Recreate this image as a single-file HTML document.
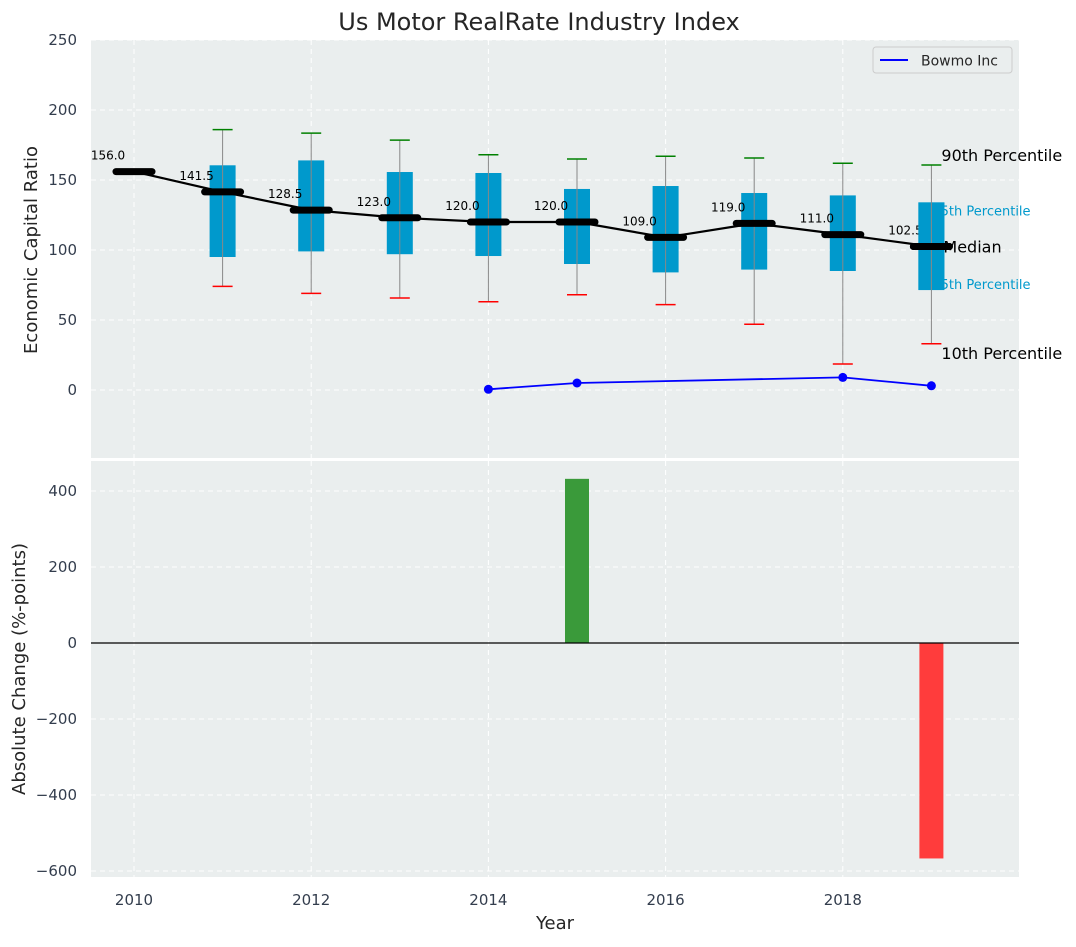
<!DOCTYPE html>
<html><head><meta charset="utf-8"><style>
body{margin:0;background:#fff;}
text{font-family:"DejaVu Sans","Liberation Sans",sans-serif;}
</style></head><body>
<svg id="chart" width="1076" height="942" xmlns="http://www.w3.org/2000/svg">
<text x="539" y="30" font-size="24" text-anchor="middle" fill="#262626">Us Motor RealRate Industry Index</text>
<rect x="91" y="40" width="928" height="418" fill="#eaeeee"/>
<rect x="91" y="461" width="928" height="416" fill="#eaeeee"/>
<g id="topg"></g><g id="botg"></g>
<text x="37" y="250" font-size="18" fill="#262626" text-anchor="middle" transform="rotate(-90 37 250)">Economic Capital Ratio</text>
<text x="25" y="669" font-size="18" fill="#262626" text-anchor="middle" transform="rotate(-90 25 669)">Absolute Change (%-points)</text>
<text x="555" y="929" font-size="18" fill="#262626" text-anchor="middle">Year</text>
<g>
<rect x="873" y="47" width="139" height="26" rx="3" fill="#eaeeee" stroke="#cccccc"/>
<line x1="880" y1="60" x2="908" y2="60" stroke="#0000ff" stroke-width="2"/>
<text x="921" y="65.5" font-size="14" fill="#262626">Bowmo Inc</text>
</g>
</svg>
<script>
const years=[2010,2011,2012,2013,2014,2015,2016,2017,2018,2019];
const medians=[156,141.5,128.5,123,120,120,109,119,111,102.5];
const boxYears=[2011,2012,2013,2014,2015,2016,2017,2018,2019];
const q1=[95,99,97,95.7,90,84,86,85,71.4];
const q3=[160.5,164,155.7,155,143.6,145.7,140.7,139,134];
const p90=[186,183.5,178.5,168,165,167,165.7,162,160.7];
const p10=[74,69,65.7,63,68,61,47,18.6,33];
const bowYears=[2014,2015,2018,2019];
const bowVals=[0.5,5,9,3];
const chgYears=[2015,2019];
const chgVals=[432,-567];
const yTicksTop=[0,50,100,150,200,250];
const yTicksBot=[-600,-400,-200,0,200,400];
const xTicks=[2010,2012,2014,2016,2018];

const NS="http://www.w3.org/2000/svg";
const X=v=>134+(v-2010)*88.6;
const YT=v=>390-v*1.4;
const YB=v=>643-v*0.38;
function mk(p,tag,at,txt){const e=document.createElementNS(NS,tag);for(const k in at)e.setAttribute(k,at[k]);if(txt!==undefined)e.textContent=txt;p.appendChild(e);return e;}
const topG=document.getElementById('topg'),botG=document.getElementById('botg');
yTicksTop.forEach(t=>{
 const g=mk(topG,'line',{x1:91,x2:1019,y1:YT(t),y2:YT(t),stroke:'#fff','stroke-dasharray':'5,4'});
 
 
 const l=mk(topG,'text',{x:77,y:YT(t)+5,'font-size':15,'text-anchor':'end',fill:'#333d4d'},t);
 
 
});
yTicksBot.forEach(t=>{
 const g=mk(botG,'line',{x1:91,x2:1019,y1:YB(t),y2:YB(t),stroke:'#fff','stroke-dasharray':'5,4'});
 
 
 const l=mk(botG,'text',{x:77,y:YB(t)+5,'font-size':15,'text-anchor':'end',fill:'#333d4d'},t<0?'\u2212'+(-t):t);
 
 
});
xTicks.forEach(t=>{
 [[topG,40,458],[botG,461,877]].forEach(([p,a,b])=>{
  const g=mk(p,'line',{x1:X(t),x2:X(t),y1:a,y2:b,stroke:'#fff','stroke-dasharray':'5,4'});
  
  
 });
 const l=mk(botG,'text',{x:X(t),y:905,'font-size':15,'text-anchor':'middle',fill:'#333d4d'},t);
 
 
});
boxYears.forEach((y,i)=>{
 const x=X(y);
 const b=mk(topG,'rect',{x:x-13,y:YT(q3[i]),width:26,height:YT(q1[i])-YT(q3[i]),fill:'#0099cc'});
 
 
 const w=mk(topG,'line',{x1:x,x2:x,y1:YT(p90[i]),y2:YT(p10[i]),stroke:'#888','stroke-width':1});
 
 
 const c1=mk(topG,'line',{x1:x-10,x2:x+10,y1:YT(p90[i]),y2:YT(p90[i]),stroke:'green','stroke-width':1.5});
 
 
 const c2=mk(topG,'line',{x1:x-10,x2:x+10,y1:YT(p10[i]),y2:YT(p10[i]),stroke:'red','stroke-width':1.5});
 
 
});
const ml=mk(topG,'polyline',{points:years.map((y,i)=>X(y)+','+YT(medians[i])).join(' '),fill:'none',stroke:'#000','stroke-width':2.2});


years.forEach((y,i)=>{
 const m=mk(topG,'line',{x1:X(y)-18,x2:X(y)+18,y1:YT(medians[i]),y2:YT(medians[i]),stroke:'#000','stroke-width':7,'stroke-linecap':'round'});
 
 
 const t=mk(topG,'text',{x:X(y)-26,y:YT(medians[i])-12,'font-size':12,'text-anchor':'middle',fill:'#000'},medians[i].toFixed(1));
 
 
});
const bl=mk(topG,'polyline',{points:bowYears.map((y,i)=>X(y)+','+YT(bowVals[i])).join(' '),fill:'none',stroke:'#0000ff','stroke-width':1.8});


bowYears.forEach((y,i)=>{
 const c=mk(topG,'circle',{cx:X(y),cy:YT(bowVals[i]),r:4.5,fill:'#0000ff'});
 
 
});
const li=boxYears.length-1,lx=X(boxYears[li]);
const lastMed=medians[medians.length-1];
[[p90[li]+7,'90th Percentile',16,'#000',lx+10],[q3[li]-5,'75th Percentile',13,'#0099cc',lx+1],[lastMed,'Median',16,'#000',lx+12],[q1[li]+5,'25th Percentile',13,'#0099cc',lx+1],[p10[li]-6.6,'10th Percentile',16,'#000',lx+10]].forEach(a=>{
 const t=mk(topG,'text',{x:a[4],y:YT(a[0])+6,'font-size':a[2],fill:a[3]},a[1]);
 
 
});
{const b=mk(topG,'rect',{x:lx-13,y:YT(q3[li]),width:26,height:YT(q1[li])-YT(q3[li]),fill:'#0099cc'});


const w=mk(topG,'line',{x1:lx,x2:lx,y1:YT(q3[li]),y2:YT(q1[li]),stroke:'#888'});


const m=mk(topG,'line',{x1:lx-18,x2:lx+18,y1:YT(lastMed),y2:YT(lastMed),stroke:'#000','stroke-width':7,'stroke-linecap':'round'});

}
chgYears.forEach((y,i)=>{
 const v=chgVals[i];
 const r=mk(botG,'rect',{x:X(y)-12,y:Math.min(YB(v),YB(0)),width:24,height:Math.abs(YB(v)-YB(0)),fill:v>=0?'#3a9a3a':'#ff3c3c'});
 
 
});
const z=mk(botG,'line',{x1:91,x2:1019,y1:YB(0),y2:YB(0),stroke:'#000','stroke-width':1.2});


</script>
</body></html>
